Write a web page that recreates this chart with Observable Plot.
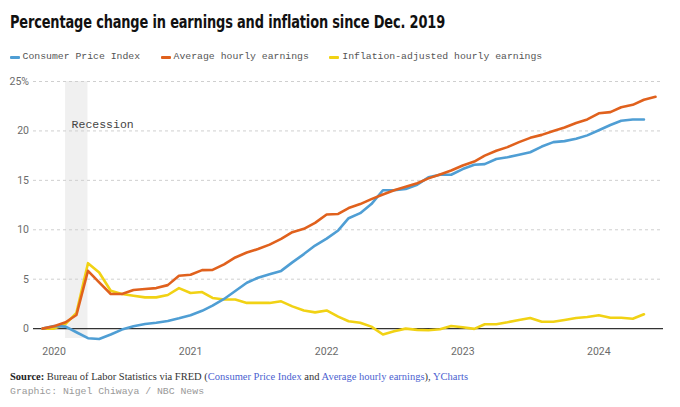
<!DOCTYPE html>
<html>
<head>
<meta charset="utf-8">
<script src="https://cdn.jsdelivr.net/npm/d3@7"></script>
<script src="https://cdn.jsdelivr.net/npm/@observablehq/plot@0.6"></script>
<style>
  html, body { margin: 0; padding: 0; background: #fff; }
  body { width: 680px; height: 407px; position: relative; overflow: hidden; }
  #title { position: absolute; left: 9.5px; top: 11px; font-family: "DejaVu Sans Condensed", "Liberation Sans Narrow", Roboto, sans-serif; font-weight: 700; font-size: 18px; line-height: 22px; color: #111; white-space: nowrap; transform-origin: 0 0; letter-spacing: -0.2px; }
  #legend { position: absolute; left: 9.5px; top: 51px; font-family: "Liberation Mono", "DejaVu Sans Mono", monospace; font-size: 9.8px; line-height: 12px; color: #555; white-space: nowrap; display: flex; }
  .item { display: flex; align-items: center; margin-right: 20.5px; }
  .sw { display: inline-block; width: 10px; height: 3px; border-radius: 1px; margin-right: 3px; }
  #chart { position: absolute; left: 0; top: 70px; }
  #source { position: absolute; left: 10px; top: 370px; font-family: "Liberation Serif", "DejaVu Serif", serif; font-size: 10.5px; line-height: 13px; color: #333; white-space: nowrap; }
  #source b { color: #222; }
  #source a { color: #4b5fd0; text-decoration: none; }
  #credit { position: absolute; left: 10px; top: 386px; font-family: "Liberation Mono", "DejaVu Sans Mono", monospace; font-size: 9.8px; line-height: 12px; color: #999; white-space: nowrap; }
</style>
</head>
<body>
<div id="title">Percentage change in earnings and inflation since Dec. 2019</div>
<div id="legend"></div>
<div id="chart"></div>
<div id="source"><b>Source:</b> Bureau of Labor Statistics via FRED (<a>Consumer Price Index</a> and <a>Average hourly earnings</a>), <a>YCharts</a></div>
<div id="credit">Graphic: Nigel Chiwaya / NBC News</div>
<script>
// ---- data (percent change since Dec. 2019) ----
const months = [
  "2019-12",
  "2020-01","2020-02","2020-03","2020-04","2020-05","2020-06","2020-07","2020-08","2020-09","2020-10","2020-11","2020-12",
  "2021-01","2021-02","2021-03","2021-04","2021-05","2021-06","2021-07","2021-08","2021-09","2021-10","2021-11","2021-12",
  "2022-01","2022-02","2022-03","2022-04","2022-05","2022-06","2022-07","2022-08","2022-09","2022-10","2022-11","2022-12",
  "2023-01","2023-02","2023-03","2023-04","2023-05","2023-06","2023-07","2023-08","2023-09","2023-10","2023-11","2023-12",
  "2024-01","2024-02","2024-03","2024-04","2024-05","2024-06"
];
const cpi = [
  0, 0.27, 0.2, -0.37, -0.97, -1.05, -0.6, -0.1, 0.24, 0.47, 0.6, 0.77, 1.04,
  1.35, 1.8, 2.32, 3.0, 3.8, 4.64, 5.15, 5.5, 5.84, 6.7, 7.54, 8.4,
  9.1, 9.93, 11.17, 11.68, 12.6, 14.0, 14.0, 14.13, 14.56, 15.3, 15.57, 15.57,
  16.14, 16.58, 16.64, 17.16, 17.33, 17.6, 17.84, 18.42, 18.87, 18.97, 19.2, 19.55,
  20.07, 20.6, 21.03, 21.16, 21.16
];
const earnings = [
  0, 0.24, 0.64, 1.38, 5.85, 4.67, 3.5, 3.5, 3.9, 4.0, 4.1, 4.4, 5.35,
  5.45, 5.92, 5.94, 6.5, 7.2, 7.7, 8.05, 8.5, 9.08, 9.76, 10.1, 10.7,
  11.55, 11.6, 12.2, 12.6, 13.1, 13.56, 14.0, 14.36, 14.7, 15.2, 15.6, 16.0,
  16.5, 16.9, 17.5, 18.0, 18.36, 18.87, 19.3, 19.6, 20.0, 20.34, 20.8, 21.16,
  21.78, 21.9, 22.4, 22.64, 23.15, 23.45
];
const realEarnings = [
  0, 0.0, 0.47, 1.6, 6.62, 5.68, 3.83, 3.5, 3.33, 3.16, 3.16, 3.4, 4.1,
  3.6, 3.7, 3.1, 2.94, 2.94, 2.6, 2.6, 2.6, 2.76, 2.25, 1.84, 1.64,
  1.84, 1.21, 0.74, 0.6, 0.2, -0.6, -0.27, 0.0, -0.13, -0.17, -0.07, 0.27,
  0.13, -0.03, 0.44, 0.44, 0.64, 0.88, 1.08, 0.7, 0.7, 0.88, 1.08, 1.18,
  1.35, 1.1, 1.1, 1.0, 1.45
];
const seriesNames = ["Consumer Price Index", "Average hourly earnings", "Inflation-adjusted hourly earnings"];
const seriesColors = ["#4f9ed4", "#e0611d", "#f1d214"];
const recession = { start: "2020-02", end: "2020-04", label: "Recession", labelValue: 20.7 };
const yTicks = [0, 5, 10, 15, 20, 25];
const gridTicks = [5, 10, 15, 20, 25];
const xTicks = ["2020-01", "2021-01", "2022-01", "2023-01", "2024-01"];
const xDomain = ["2019-12", "2024-06"];
const yDomain = [-1, 25];

// ---- build ----
const parse = d3.utcParse("%Y-%m");
const toRows = (vals) => vals.map((v, i) => ({ date: parse(months[i]), value: v }));
const rowsCpi = toRows(cpi);
const rowsEarn = toRows(earnings);
const rowsReal = toRows(realEarnings);

// legend
const legend = document.getElementById("legend");
seriesNames.forEach((name, i) => {
  const it = document.createElement("div");
  it.className = "item";
  const sw = document.createElement("span");
  sw.className = "sw";
  sw.style.background = seriesColors[i];
  it.appendChild(sw);
  it.appendChild(document.createTextNode(name));
  legend.appendChild(it);
});

const chart = Plot.plot({
  width: 680,
  height: 300,
  marginLeft: 33,
  marginRight: 17,
  marginTop: 11,
  marginBottom: 32,
  style: { fontFamily: "Roboto, 'Liberation Sans', sans-serif", fontSize: "10.5px", color: "#6b6b6b", background: "transparent" },
  x: { type: "utc", domain: xDomain.map(parse), insetLeft: 9, insetRight: 8, label: null },
  y: { domain: yDomain, label: null },
  marks: [
    Plot.rect([recession], { x1: d => parse(d.start), x2: d => parse(d.end), fill: "#f0f0f0" }),
    Plot.ruleY(gridTicks, { stroke: "#cfcfcf", strokeDasharray: "3,3", strokeWidth: 1 }),
    Plot.ruleY([0], { stroke: "#333", strokeWidth: 1.2 }),
    Plot.text([recession], { x: d => parse(d.start), y: d => d.labelValue, text: d => d.label, textAnchor: "start", dx: 6, fill: "#444", fontFamily: "'Liberation Mono', 'DejaVu Sans Mono', monospace", fontSize: 11.5 }),
    Plot.line(rowsReal, { x: "date", y: "value", stroke: seriesColors[2], strokeWidth: 2.6, curve: "linear" }),
    Plot.line(rowsCpi, { x: "date", y: "value", stroke: seriesColors[0], strokeWidth: 2.6, curve: "linear" }),
    Plot.line(rowsEarn, { x: "date", y: "value", stroke: seriesColors[1], strokeWidth: 2.6, curve: "linear" }),
    Plot.axisX({ ticks: xTicks.map(parse), tickFormat: d3.utcFormat("%Y"), tickSize: 0, tickPadding: 9, label: null }),
    Plot.axisY({ ticks: yTicks, tickFormat: d => d === 25 ? d + "%" : String(d), tickSize: 0, tickPadding: 4.5, label: null })
  ]
});
document.getElementById("chart").appendChild(chart);

// fit title width to the reference's measure
const title = document.getElementById("title");
const w = title.getBoundingClientRect().width;
if (w > 0) title.style.transform = `scaleX(${435 / w})`;
</script>
</body>
</html>
